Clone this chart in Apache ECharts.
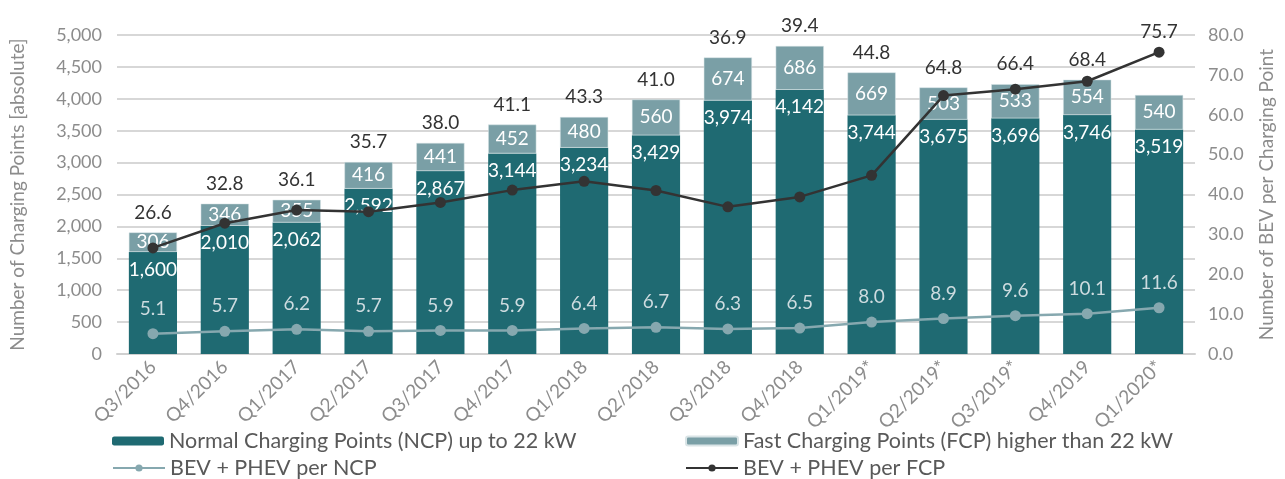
<!DOCTYPE html>
<html>

<head>
    <meta charset="UTF-8">
    <style type="text/css">
        body {
            margin: 0;
            padding: 0;
            overflow: hidden;
            background: #fff
        }

        #chart {
            width: 1285px;
            height: 479px;
        }
    </style>
</head>

<body>
    <div id="chart"></div>
    <script src="https://cdn.jsdelivr.net/npm/echarts@6/dist/echarts.min.js"></script>
    <script>
        // quarters on the x axis
        let quarters = ['Q3/2016', 'Q4/2016', 'Q1/2017', 'Q2/2017', 'Q3/2017', 'Q4/2017', 'Q1/2018', 'Q2/2018',
            'Q3/2018', 'Q4/2018', 'Q1/2019*', 'Q2/2019*', 'Q3/2019*', 'Q4/2019', 'Q1/2020*'];
        // charging points (absolute)
        let ncp = [1600, 2010, 2062, 2592, 2867, 3144, 3234, 3429, 3974, 4142, 3744, 3675, 3696, 3746, 3519];
        let fcp = [306, 346, 355, 416, 441, 452, 480, 560, 674, 686, 669, 503, 533, 554, 540];
        // BEV + PHEV per charging point
        let perNcp = [5.1, 5.7, 6.2, 5.7, 5.9, 5.9, 6.4, 6.7, 6.3, 6.5, 8.0, 8.9, 9.6, 10.1, 11.6];
        let perFcp = [26.6, 32.8, 36.1, 35.7, 38.0, 41.1, 43.3, 41.0, 36.9, 39.4, 44.8, 64.8, 66.4, 68.4, 75.7];

        let NAMES = {
            ncp: 'Normal Charging Points (NCP) up to 22 kW',
            fcp: 'Fast Charging Points (FCP) higher than 22 kW',
            perNcp: 'BEV + PHEV per NCP',
            perFcp: 'BEV + PHEV per FCP'
        };
        let FONT = 'Lato, "Open Sans", sans-serif';
        let GREY = '#8c8c8c';

        var myChart = echarts.init(document.getElementById('chart'));

        // one legend per entry so they sit in a 2x2 block like the original
        function legendAt(name, left, top) {
            return {
                left: left,
                top: top,
                padding: 0,
                itemWidth: 52,
                itemHeight: 9,
                textStyle: { fontFamily: FONT, fontSize: 21.5, color: '#595959' },
                data: [name]
            };
        }

        let option = {
            animation: false,
            textStyle: { fontFamily: FONT },
            grid: {
                left: 117,
                right: 90,
                top: 35,
                bottom: 125,
                containLabel: false
            },
            legend: [
                legendAt(NAMES.ncp, 112, 430),
                legendAt(NAMES.perNcp, 112, 457),
                legendAt(NAMES.fcp, 685, 430),
                legendAt(NAMES.perFcp, 685, 457)
            ],
            xAxis: {
                type: 'category',
                data: quarters,
                axisLine: { lineStyle: { color: '#d0d0d0', width: 2 } },
                axisTick: { show: false },
                axisLabel: {
                    rotate: 45,
                    color: GREY,
                    fontSize: 19,
                    margin: 10,
                    interval: 0
                }
            },
            yAxis: [
                {
                    type: 'value',
                    min: 0,
                    max: 5000,
                    interval: 500,
                    name: 'Number of Charging Points [absolute]',
                    nameLocation: 'middle',
                    nameGap: 90,
                    nameTextStyle: { color: GREY, fontSize: 19 },
                    axisLine: { show: false },
                    axisTick: { show: false },
                    axisLabel: {
                        color: GREY,
                        fontSize: 18,
                        margin: 15,
                        formatter: function (v) {
                            return v.toLocaleString('en-US');
                        }
                    },
                    splitLine: { lineStyle: { color: '#cacaca', width: 1.5 } }
                },
                {
                    type: 'value',
                    min: 0,
                    max: 80,
                    interval: 10,
                    name: 'Number of BEV per Charging Point',
                    nameLocation: 'middle',
                    nameGap: 62,
                    nameRotate: 90,
                    nameTextStyle: { color: GREY, fontSize: 19 },
                    axisLine: { show: false },
                    axisTick: { show: false },
                    axisLabel: {
                        color: GREY,
                        fontSize: 18,
                        margin: 13,
                        formatter: function (v) {
                            return v.toFixed(1);
                        }
                    },
                    splitLine: { show: false }
                }
            ],
            series: [
                {
                    name: NAMES.ncp,
                    type: 'bar',
                    stack: 'cp',
                    barWidth: '67%',
                    data: ncp,
                    itemStyle: { color: '#1f6a72' },
                    label: {
                        show: true,
                        position: 'insideTop',
                        distance: 8,
                        color: '#fff',
                        fontSize: 19,
                        formatter: function (p) {
                            return p.value.toLocaleString('en-US');
                        }
                    }
                },
                {
                    name: NAMES.fcp,
                    type: 'bar',
                    stack: 'cp',
                    data: fcp,
                    itemStyle: { color: '#7a9fa6', borderColor: '#d9e4e6', borderWidth: 0.5 },
                    label: {
                        show: true,
                        position: 'inside',
                        color: '#fff',
                        fontSize: 19
                    }
                },
                {
                    name: NAMES.perNcp,
                    type: 'line',
                    yAxisIndex: 1,
                    data: perNcp,
                    symbol: 'circle',
                    symbolSize: 11,
                    lineStyle: { color: '#86a8af', width: 2.5 },
                    itemStyle: { color: '#86a8af' },
                    label: {
                        show: true,
                        position: 'top',
                        distance: 10,
                        color: '#cddbdf',
                        fontSize: 19,
                        formatter: function (p) {
                            return p.value.toFixed(1);
                        }
                    },
                    z: 5
                },
                {
                    id: 'fcpLine',
                    name: NAMES.perFcp,
                    type: 'line',
                    yAxisIndex: 1,
                    data: perFcp,
                    symbol: 'circle',
                    symbolSize: 11,
                    lineStyle: { color: '#333333', width: 2.5 },
                    itemStyle: { color: '#333333' },
                    label: {
                        show: true,
                        position: 'inside',
                        color: '#333333',
                        fontSize: 19,
                        formatter: function (p) {
                            return p.value.toFixed(1);
                        }
                    },
                    z: 6
                }
            ]
        };
        myChart.setOption(option);

        // put the FCP ratio labels above whichever is higher: the point or the bar
        function liftLabels() {
            let data = perFcp.map((v, i) => {
                let py = myChart.convertToPixel({ yAxisIndex: 1 }, v);
                let top = myChart.convertToPixel({ yAxisIndex: 0 }, ncp[i] + fcp[i]);
                let target = Math.min(py, top) - 20;
                return { value: v, label: { offset: [0, target - py] } };
            });
            myChart.setOption({ series: [{ id: 'fcpLine', data: data }] });
        }
        liftLabels();
    </script>
</body>

</html>
